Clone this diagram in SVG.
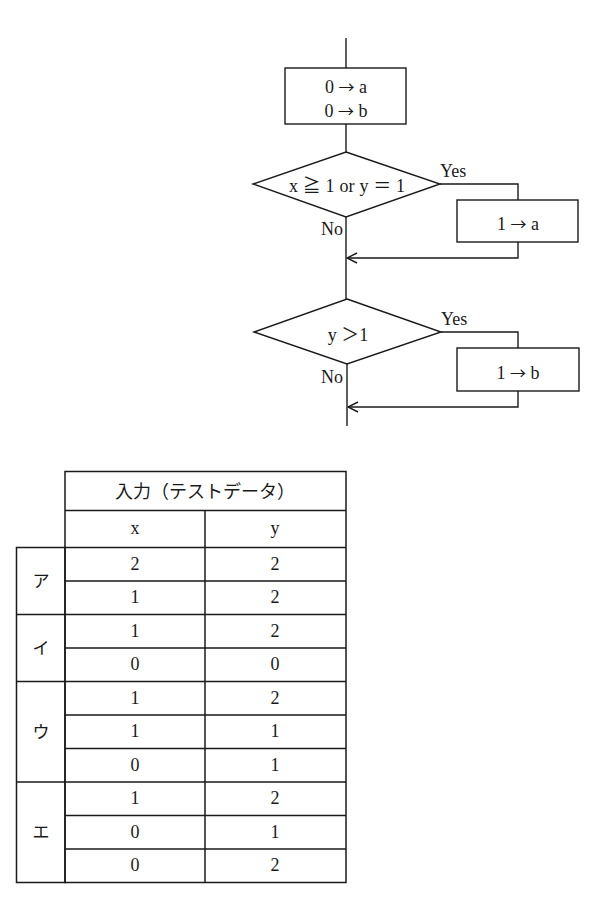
<svg xmlns="http://www.w3.org/2000/svg" width="595" height="902" viewBox="0 0 595 902">
<style>
.s{fill:none;stroke:#1a1a1a;stroke-width:1.4}
.t{font-family:"Liberation Serif","Noto Sans CJK JP",serif;font-size:18px;fill:#1a1a1a}
.c{text-anchor:middle}
.a{font-family:"Noto Sans CJK JP",sans-serif;font-size:16px}
.j{font-family:"Noto Sans CJK JP","Liberation Serif",serif;font-size:17px;fill:#1a1a1a;text-anchor:middle}
.g{stroke:#1a1a1a;stroke-width:1.5;fill:none}
</style>
<defs>
<marker id="ah" viewBox="0 0 12 12" refX="11" refY="6" markerWidth="12" markerHeight="12" markerUnits="userSpaceOnUse" orient="auto">
<path d="M1,1 L11,6 L1,11" fill="none" stroke="#1a1a1a" stroke-width="1.4"/>
</marker>
</defs>
<rect width="595" height="902" fill="#fff"/>
<g id="connectors">
<line class="s" x1="346" y1="38" x2="346" y2="68"/>
<line class="s" x1="346" y1="124" x2="346" y2="152"/>
<line class="s" x1="346" y1="217" x2="346" y2="299"/>
<polyline class="s" points="440,184 518,184 518,200"/>
<polyline class="s" points="518,242 518,258 347,258" marker-end="url(#ah)"/>
<polyline class="s" points="441,332 518,332 518,348"/>
<polyline class="s" points="518,391 518,407 348,407" marker-end="url(#ah)"/>
<line class="s" x1="347" y1="364" x2="347" y2="426"/>
</g>
<g id="init">
<rect class="s" x="285" y="68" width="121" height="56"/>
<text class="t c" x="346" y="93">0 <tspan class="a">→</tspan> a</text>
<text class="t c" x="346" y="117">0 <tspan class="a">→</tspan> b</text>
</g>
<g id="dec1">
<polygon class="s" points="346,152 440,184 346,217 253,184"/>
<text class="t" x="289" y="192" textLength="116" lengthAdjust="spacing">x ≧ 1 or y ＝ 1</text>
<text class="t" x="440" y="177">Yes</text>
<text class="t" x="321" y="235">No</text>
</g>
<g id="seta">
<rect class="s" x="457" y="200" width="121" height="42"/>
<text class="t c" x="518" y="230">1 <tspan class="a">→</tspan>  a</text>
</g>
<g id="dec2">
<polygon class="s" points="347,299 441,332 347,364 254,332"/>
<text class="t c" x="348" y="341">y ＞1</text>
<text class="t" x="441" y="325">Yes</text>
<text class="t" x="321" y="383">No</text>
</g>
<g id="setb">
<rect class="s" x="457" y="348" width="122" height="43"/>
<text class="t c" x="518" y="379">1 <tspan class="a">→</tspan>  b</text>
</g>
<g id="table">
<rect class="g" x="65" y="471.5" width="281" height="411"/>
<rect class="g" x="16.5" y="547.5" width="48.5" height="335"/>
<line class="g" x1="65" y1="510.5" x2="346" y2="510.5"/>
<line class="g" x1="205" y1="510.5" x2="205" y2="882.5"/>
<line class="g" x1="16.5" y1="614.5" x2="65" y2="614.5"/>
<line class="g" x1="16.5" y1="681.5" x2="65" y2="681.5"/>
<line class="g" x1="16.5" y1="782" x2="65" y2="782"/>
<path class="g" d="M65,547.5H346M65,581H346M65,614.5H346M65,648H346M65,681.5H346M65,715H346M65,748.5H346M65,782H346M65,815.5H346M65,849H346"/>
<text class="j" x="205" y="498" style="font-size:18px">入力（テストデータ）</text>
<text class="t c" x="135" y="534">x</text>
<text class="t c" x="275" y="534">y</text>
<g class="t c">
<text x="135" y="570">2</text><text x="275" y="570">2</text>
<text x="135" y="603">1</text><text x="275" y="603">2</text>
<text x="135" y="637">1</text><text x="275" y="637">2</text>
<text x="135" y="670">0</text><text x="275" y="670">0</text>
<text x="135" y="704">1</text><text x="275" y="704">2</text>
<text x="135" y="737">1</text><text x="275" y="737">1</text>
<text x="135" y="771">0</text><text x="275" y="771">1</text>
<text x="135" y="804">1</text><text x="275" y="804">2</text>
<text x="135" y="838">0</text><text x="275" y="838">1</text>
<text x="135" y="871">0</text><text x="275" y="871">2</text>
</g>
<text class="j" x="41" y="587">ア</text>
<text class="j" x="41" y="654">イ</text>
<text class="j" x="41" y="738">ウ</text>
<text class="j" x="41" y="838">エ</text>
</g>
</svg>
